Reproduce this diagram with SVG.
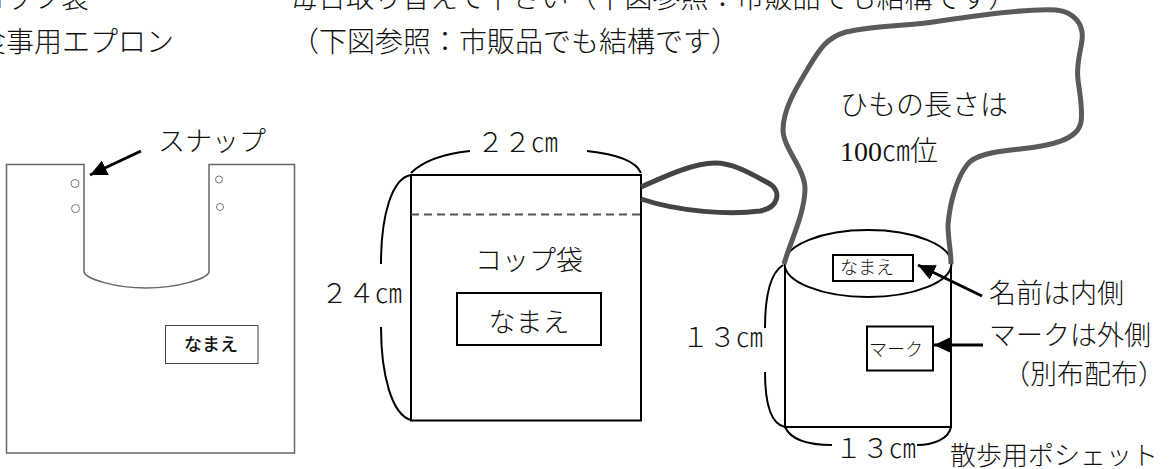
<svg xmlns="http://www.w3.org/2000/svg" width="1176" height="469" viewBox="0 0 1176 469">
<style>
text{font-family:"Liberation Serif","Noto Sans CJK JP",serif;fill:#111;font-size:27px;font-weight:300}
.cjk{font-family:"Noto Sans CJK JP","Liberation Sans",sans-serif;font-weight:300}
.top{font-size:28px}
.thin{fill:#fff;stroke:#666;stroke-width:1.5}
.blk{fill:#fff;stroke:#000;stroke-width:2}
.curve{fill:none;stroke:#000;stroke-width:2}
.strap{fill:none;stroke:#5a5a5a;stroke-width:5;stroke-linecap:butt}
.ring{fill:#fff;stroke:#777;stroke-width:1}
.arrow{fill:none;stroke:#000;stroke-width:3;marker-end:url(#head)}
</style>
<defs>
<marker id="head" markerUnits="userSpaceOnUse" markerWidth="20" markerHeight="18" refX="17" refY="8" orient="auto">
<path d="M0 0L17 8L0 16Z" fill="#000"/>
</marker>
</defs>
<rect width="1176" height="469" fill="#fff"/>
<g id="header">
<text class="cjk top" x="-23" y="8">コップ袋</text>
<text class="cjk top" x="290" y="8">毎日取り替えて下さい（下図参照：市販品でも結構です）</text>
<text class="cjk top" x="-22" y="52">食事用エプロン</text>
<text class="cjk top" x="291" y="52">（下図参照：市販品でも結構です）</text>
</g>
<g id="apron">
<path class="thin" d="M6.5 164.5H84V272C86 279 115 288 146 288C177 288 207 279 209 272V164.5H294.5V453H6.5Z"/>
<circle class="ring" cx="75" cy="183.5" r="4"/>
<circle class="ring" cx="75.5" cy="208.5" r="4"/>
<circle class="ring" cx="219" cy="179.5" r="3.5"/>
<circle class="ring" cx="220" cy="207" r="3.5"/>
</g>
<g id="apron-name">
<rect x="165.5" y="325.5" width="92.5" height="38" fill="#fff" stroke="#444" stroke-width="1"/>
<text class="cjk" x="211" y="351" text-anchor="middle" style="font-size:18px;font-weight:500">なまえ</text>
</g>
<g id="snap-label"><text class="cjk" x="158" y="151">スナップ</text></g>
<g id="cup-bag">
<rect class="blk" x="411" y="175" width="230" height="245.5"/>
<line x1="411" y1="214.5" x2="641" y2="214.5" stroke="#555" stroke-width="2" stroke-dasharray="8 5"/>
<text class="cjk" x="529" y="270" text-anchor="middle">コップ袋</text>
</g>
<g id="cup-name">
<rect class="blk" x="457" y="293" width="144" height="52"/>
<text class="cjk" x="529" y="332" text-anchor="middle">なまえ</text>
</g>
<g id="cup-width"><text class="cjk" x="477" y="152">２２㎝</text></g>
<g id="cup-height"><text class="cjk" x="321" y="303">２４㎝</text></g>
<g id="pochette">
<rect class="blk" x="785" y="264" width="166" height="163"/>
<ellipse class="blk" cx="868" cy="263.5" rx="83.5" ry="33.5"/>
</g>
<g id="pochette-name">
<rect class="blk" x="833" y="255" width="80" height="26"/>
<text class="cjk" x="840" y="274" style="font-size:18px">なまえ</text>
</g>
<g id="pochette-mark">
<rect class="blk" x="867" y="326.5" width="66" height="44"/>
<text class="cjk" x="869" y="356" style="font-size:18px">マーク</text>
</g>
<g id="pochette-labels">
<text class="cjk top" x="840" y="115">ひもの長さは</text>
<text x="840" y="161" style="font-size:28px">100㎝位</text>
<text class="cjk" x="989" y="303">名前は内側</text>
<text class="cjk" x="989" y="345">マークは外側</text>
<text class="cjk" x="1003" y="384">（別布配布）</text>
<text class="cjk" x="682" y="347">１３㎝</text>
<text class="cjk" x="835" y="458">１３㎝</text>
<text class="cjk" x="950" y="465" style="font-size:26px">散歩用ポシェット</text>
</g>
<g id="connectors">
<line class="arrow" x1="141" y1="151" x2="90" y2="175"/>
<line class="arrow" x1="982" y1="296" x2="918" y2="265"/>
<line class="arrow" x1="983" y1="345" x2="934" y2="345"/>
<path class="curve" d="M411 173C422 162 442 154 470 151"/>
<path class="curve" d="M587 151C615 154 636 161 641 173"/>
<path class="curve" d="M411 175C392 178 381 215 381 264"/>
<path class="curve" d="M381 327C381 375 392 415 411 420"/>
<path class="curve" d="M783 265C772 272 765 290 765 328"/>
<path class="curve" d="M765 372C765 400 770 424 785 427"/>
<path class="curve" d="M785 427C790 438 805 445 832 445"/>
<path class="curve" d="M917 445C935 445 949 438 951 427"/>
<path d="M641 187C670 174 695 163 715 163C735 163 755 176 770 184C782 192 778 208 760 211C730 215 680 212 641 199" fill="none" stroke="#444" stroke-width="5"/>
<path class="strap" d="M784 264C791 240 804 215 805 190C806 170 783 148 783 130C783 110 795 90 807 70C818 52 825 38 846 32C880 24 905 27 940 21C980 15 1030 8 1056 10C1075 12 1084 25 1082 40C1080 55 1076 65 1078 80C1080 95 1083 110 1081 122C1078 140 1050 146 1020 149C995 152 975 154 967 165C958 176 950 200 948 225C948 240 951 250 951 264"/>
</g>
</svg>
